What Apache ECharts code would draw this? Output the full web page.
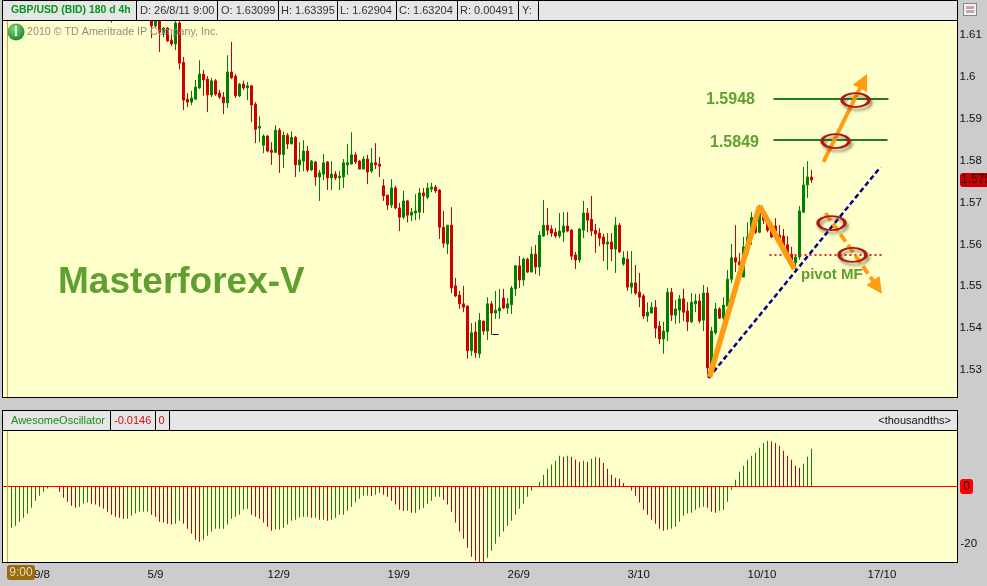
<!DOCTYPE html>
<html>
<head>
<meta charset="utf-8">
<title>GBP/USD Masterforex-V</title>
<style>
html,body{margin:0;padding:0;background:#ccc;}
#main{width:987px;height:586px;}
</style>
<script src="https://cdn.jsdelivr.net/npm/echarts@6/dist/echarts.min.js"></script>
</head>
<body>
<div id="main"></div>
<script>
// x axis ticks, week starts
var tickIndex = [5, 35, 65, 95, 125, 155, 185, 215];
var tickLabels = ['29/8', '5/9', '12/9', '19/9', '26/9', '3/10', '10/10', '17/10'];
var barCount = 238;
var firstCandle = 36;
var priceTicks = [1.53, 1.54, 1.55, 1.56, 1.57, 1.58, 1.59, 1.6, 1.61];

// 4h candles, the ones before firstCandle are above the visible range
var openPrices = [
    1.6140,1.6122,1.6150,1.6107,1.6117,1.6088,1.6079,1.6129,1.6035,1.5947,
    1.5940,1.5947,1.5974,1.6007,1.5995,1.5957,1.5991,1.5962,1.5952,1.5938,
    1.6012,1.6002,1.5955,1.5983,1.5974,1.5979,1.5935,1.5878,1.5837,1.5859,
    1.5825,1.5820,1.5873,1.5815,1.5861,1.5840,1.5856,1.5790,1.5799,1.5823,
    1.5778,1.5797,1.5761,1.5768,1.5797,1.5759,1.5768,1.5759,1.5761,1.5790,
    1.5792,1.5814,1.5799,1.5780,1.5804,1.5775,1.5795,1.5792,1.5740,1.5718,
    1.5694,1.5735,1.5687,1.5665,1.5704,1.5670,1.5675,1.5677,1.5723,1.5713,
    1.5732,1.5737,1.5730,1.5641,1.5601,1.5646,1.5501,1.5479,1.5458,1.5453,
    1.5346,1.5391,1.5339,1.5417,1.5393,1.5458,1.5436,1.5441,1.5472,1.5448,
    1.5456,1.5494,1.5549,1.5515,1.5565,1.5534,1.5577,1.5546,1.5620,1.5646,
    1.5637,1.5629,1.5620,1.5629,1.5644,1.5634,1.5575,1.5563,1.5634,1.5675,
    1.5660,1.5634,1.5627,1.5618,1.5601,1.5606,1.5589,1.5646,1.5553,1.5565,
    1.5498,1.5508,1.5486,1.5477,1.5429,1.5436,1.5450,1.5405,1.5374,1.5391,
    1.5486,1.5431,1.5443,1.5470,1.5441,1.5415,1.5458,1.5465,1.5419,1.5484,
    1.5305,1.5389,1.5446,1.5424,1.5453,1.5517,1.5568,1.5558,1.5522,1.5580,
    1.5615,1.5665,1.5629,1.5675,1.5658,1.5634,1.5644,1.5622,1.5620,1.5599,
    1.5577,1.5556,1.5570,1.5677,1.5742,1.5761
];
var closePrices = [
    1.6122,1.6150,1.6107,1.6117,1.6086,1.6079,1.6129,1.6033,1.5945,1.5940,
    1.5950,1.5976,1.6007,1.5993,1.5957,1.5991,1.5959,1.5952,1.5938,1.6012,
    1.5998,1.5955,1.5983,1.5974,1.5979,1.5933,1.5875,1.5882,1.5859,1.5823,
    1.5820,1.5873,1.5815,1.5861,1.5840,1.5856,1.5790,1.5802,1.5823,1.5778,
    1.5799,1.5761,1.5771,1.5795,1.5759,1.5768,1.5759,1.5763,1.5795,1.5795,
    1.5814,1.5797,1.5780,1.5804,1.5773,1.5795,1.5790,1.5787,1.5716,1.5694,
    1.5735,1.5687,1.5665,1.5704,1.5670,1.5677,1.5680,1.5723,1.5716,1.5735,
    1.5737,1.5728,1.5641,1.5603,1.5646,1.5496,1.5477,1.5458,1.5450,1.5346,
    1.5389,1.5341,1.5419,1.5393,1.5458,1.5436,1.5443,1.5448,1.5448,1.5458,
    1.5496,1.5549,1.5515,1.5565,1.5534,1.5577,1.5546,1.5622,1.5646,1.5634,
    1.5627,1.5620,1.5632,1.5644,1.5632,1.5572,1.5563,1.5637,1.5675,1.5658,
    1.5632,1.5625,1.5615,1.5601,1.5606,1.5589,1.5646,1.5582,1.5568,1.5498,
    1.5508,1.5484,1.5474,1.5429,1.5438,1.5450,1.5400,1.5374,1.5393,1.5486,
    1.5431,1.5446,1.5470,1.5438,1.5415,1.5462,1.5465,1.5417,1.5484,1.5305,
    1.5393,1.5446,1.5424,1.5455,1.5517,1.5568,1.5558,1.5551,1.5594,1.5618,
    1.5665,1.5629,1.5682,1.5658,1.5634,1.5618,1.5618,1.5615,1.5596,1.5575,
    1.5556,1.5570,1.5680,1.5742,1.5761,1.5754
];
var lowPrices = [
    1.6093,1.6119,1.6060,1.6095,1.6084,1.6074,1.6064,1.6018,1.5921,1.5928,
    1.5933,1.5947,1.5971,1.5955,1.5916,1.5952,1.5955,1.5947,1.5911,1.5926,
    1.5995,1.5950,1.5952,1.5969,1.5945,1.5892,1.5842,1.5844,1.5818,1.5820,
    1.5790,1.5818,1.5771,1.5783,1.5828,1.5840,1.5761,1.5773,1.5775,1.5773,
    1.5775,1.5740,1.5704,1.5754,1.5730,1.5730,1.5754,1.5730,1.5735,1.5766,
    1.5792,1.5792,1.5780,1.5780,1.5744,1.5771,1.5780,1.5761,1.5704,1.5682,
    1.5687,1.5684,1.5632,1.5660,1.5653,1.5656,1.5658,1.5660,1.5675,1.5708,
    1.5725,1.5723,1.5613,1.5592,1.5577,1.5484,1.5474,1.5446,1.5438,1.5327,
    1.5334,1.5329,1.5329,1.5384,1.5372,1.5384,1.5422,1.5422,1.5446,1.5434,
    1.5434,1.5477,1.5496,1.5501,1.5532,1.5534,1.5529,1.5525,1.5618,1.5622,
    1.5618,1.5615,1.5615,1.5606,1.5629,1.5563,1.5541,1.5556,1.5615,1.5629,
    1.5620,1.5580,1.5596,1.5560,1.5539,1.5560,1.5532,1.5580,1.5549,1.5489,
    1.5482,1.5479,1.5450,1.5422,1.5415,1.5436,1.5376,1.5362,1.5339,1.5369,
    1.5417,1.5410,1.5412,1.5417,1.5393,1.5412,1.5438,1.5412,1.5393,1.5283,
    1.5300,1.5384,1.5422,1.5417,1.5453,1.5508,1.5534,1.5515,1.5522,1.5572,
    1.5599,1.5625,1.5627,1.5649,1.5629,1.5615,1.5611,1.5611,1.5592,1.5568,
    1.5551,1.5539,1.5563,1.5675,1.5711,1.5747
];
var highPrices = [
    1.6170,1.6180,1.6165,1.6119,1.6119,1.6105,1.6140,1.6140,1.6048,1.5962,
    1.5967,1.5993,1.6040,1.6017,1.6002,1.5998,1.5995,1.5969,1.5964,1.6052,
    1.6084,1.6007,1.5986,1.5991,1.5988,1.5981,1.5940,1.5906,1.5863,1.5861,
    1.5844,1.5885,1.5878,1.5870,1.5866,1.5870,1.5859,1.5844,1.5849,1.5835,
    1.5802,1.5799,1.5778,1.5816,1.5799,1.5799,1.5775,1.5775,1.5804,1.5840,
    1.5868,1.5820,1.5802,1.5811,1.5814,1.5830,1.5842,1.5809,1.5756,1.5718,
    1.5756,1.5740,1.5699,1.5728,1.5706,1.5687,1.5720,1.5735,1.5735,1.5747,
    1.5747,1.5742,1.5732,1.5680,1.5646,1.5689,1.5520,1.5489,1.5501,1.5453,
    1.5412,1.5415,1.5436,1.5417,1.5474,1.5465,1.5489,1.5494,1.5494,1.5472,
    1.5501,1.5551,1.5572,1.5568,1.5568,1.5594,1.5599,1.5632,1.5706,1.5687,
    1.5646,1.5639,1.5675,1.5677,1.5677,1.5637,1.5582,1.5639,1.5704,1.5687,
    1.5716,1.5649,1.5639,1.5625,1.5627,1.5627,1.5665,1.5651,1.5584,1.5584,
    1.5584,1.5551,1.5532,1.5482,1.5462,1.5462,1.5467,1.5417,1.5415,1.5496,
    1.5496,1.5467,1.5479,1.5494,1.5462,1.5484,1.5482,1.5482,1.5503,1.5498,
    1.5403,1.5460,1.5450,1.5474,1.5539,1.5601,1.5646,1.5580,1.5618,1.5653,
    1.5677,1.5675,1.5694,1.5687,1.5670,1.5653,1.5663,1.5646,1.5637,1.5620,
    1.5594,1.5577,1.5692,1.5785,1.5799,1.5778
];
// one earlier candle whose lower wick just shows under the top edge
var stubIndex = 26;
var stubCandle = [1.6150, 1.6140, 1.6130, 1.6160];

// awesome oscillator, in thousandths
var aoValues = [
    -14.7,-14.4,-13.7,-12.3,-10.9,-9.5,-7.5,-5.1,-3.3,-2.0,
    -0.8,-0.1,0,-2.0,-4.0,-5.4,-6.8,-7.5,-7.1,-6.1,
    -5.7,-6.1,-6.4,-7.1,-7.8,-8.9,-9.9,-10.6,-10.9,-11.3,
    -11.3,-10.2,-9.5,-8.9,-8.9,-8.8,-9.9,-10.6,-12.3,-12.6,
    -13.0,-13.3,-13.0,-12.0,-13.0,-14.7,-16.4,-18.5,-19.2,-18.5,
    -17.1,-15.7,-14.7,-14.7,-14.7,-13.3,-11.3,-10.6,-9.9,-8.2,
    -7.8,-9.9,-10.6,-11.3,-12.6,-14.0,-15.4,-15.0,-15.0,-14.4,
    -13.3,-12.0,-11.6,-10.9,-10.6,-10.6,-10.9,-10.9,-11.6,-11.6,
    -12.0,-11.6,-10.9,-9.9,-9.9,-8.5,-7.1,-5.7,-4.4,-3.3,
    -3.3,-3.4,-3.0,-2.3,-3.0,-3.7,-5.1,-6.4,-8.2,-8.5,
    -8.5,-9.2,-9.2,-8.2,-7.5,-6.1,-5.1,-3.7,-3.7,-4.7,
    -6.4,-8.9,-12.6,-15.7,-18.2,-21.3,-24.4,-25.7,-26.2,-26.5,
    -24.7,-22.3,-19.9,-17.5,-15.7,-13.7,-12.0,-9.9,-7.8,-6.1,
    -3.7,-1.6,-0.1,1.5,3.9,6.0,7.4,8.7,10.5,10.1,
    10.5,10.1,9.1,8.4,8.7,8.4,9.4,10.1,9.8,8.0,
    6.0,3.9,2.9,2.5,1.1,0,-1.5,-3.3,-5.7,-8.2,
    -9.9,-11.6,-13.0,-14.7,-15.4,-15.1,-14.7,-14.0,-12.3,-10.2,
    -9.5,-9.2,-8.2,-7.5,-7.1,-7.5,-8.9,-9.2,-8.5,-8.2,
    -5.4,-1.3,2.2,4.9,7.0,9.1,10.5,11.5,13.2,14.9,
    15.6,15.5,14.9,13.9,12.2,10.5,9.1,7.0,6.3,7.7,
    10.1,12.9
];

// hand drawn analysis on the chart, [bar, price]
var targetUp = [[191.5, 1.5948], [220.25, 1.5948]];
var targetLow = [[191.5, 1.5849], [220, 1.5849]];
var pivotLine = [[190.5, 1.5575], [219.25, 1.5575]];
var trendLine = [[175.25, 1.5281], [218.25, 1.5785]];
var arrowUp = [[204, 1.5797], [214, 1.5990]];
var arrowDown = [[204.5, 1.5675], [217.5, 1.5498]];
var waveUp = [[175.5, 1.5283], [188, 1.5692]];
var waveDown = [[188, 1.5692], [196.75, 1.5541]];
var cursorDash = [[121.25, 1.5386], [122.75, 1.5386]];
var ellipses = [[212, 1.5945], [207, 1.5847], [206, 1.5651], [211.25, 1.5575]];

var categories = [];
for (var i = 0; i < barCount; i++) {
    var t = tickIndex.indexOf(i);
    categories.push(t >= 0 ? tickLabels[t] : '');
}

var candleData = [];
for (var i = 0; i < firstCandle; i++) {
    candleData.push(i == stubIndex ? stubCandle : '-');
}
for (var i = 0; i < openPrices.length; i++) {
    candleData.push([openPrices[i], closePrices[i], lowPrices[i], highPrices[i]]);
}

// green while rising, red while falling
var aoData = aoValues.map(function (v, i) {
    var up = i == 0 ? false : v >= aoValues[i - 1];
    return {value: v, itemStyle: {color: up ? '#1f7d00' : '#c80000'}};
});

function drawn(name, coords, color, width, type, arrow) {
    return {
        type: 'lines',
        name: name,
        coordinateSystem: 'cartesian2d',
        xAxisIndex: 2,
        yAxisIndex: 0,
        polyline: false,
        silent: true,
        z: 10,
        symbol: arrow ? ['none', 'triangle'] : 'none',
        symbolSize: arrow ? 16 : 0,
        lineStyle: {color: color, width: width, type: type, opacity: 1, curveness: 0},
        data: [{coords: coords}]
    };
}

function rect(x, y, w, h, fill, z) {
    return {type: 'rect', shape: {x: x, y: y, width: w, height: h}, style: {fill: fill}, z: z || 0, silent: true};
}
function label(x, y, text, font, fill, z, align) {
    return {type: 'text', x: x, y: y, z: z || 20, silent: true,
        style: {text: text, font: font, fill: fill, textAlign: align || 'left', textVerticalAlign: 'middle'}};
}

var sans = '"Liberation Sans", Arial, sans-serif';
var noteGreen = '#5fa030';
var graphics = [
    // header of price panel, on top so candles above the range stay hidden
    rect(2, 0, 956, 21, '#000', 16),
    rect(3, 1, 954, 19, '#e6e6e6', 17),
    rect(136, 1, 1, 19, '#000', 18),
    rect(217, 1, 1, 19, '#000', 18),
    rect(278, 1, 1, 19, '#000', 18),
    rect(337, 1, 1, 19, '#000', 18),
    rect(396, 1, 1, 19, '#000', 18),
    rect(457, 1, 1, 19, '#000', 18),
    rect(518, 1, 1, 19, '#000', 18),
    rect(538, 1, 1, 19, '#000', 18),
    label(11, 10.5, 'GBP/USD (BID) 180 d 4h', 'bold 10.4px ' + sans, '#009a1a'),
    label(140, 10.5, 'D: 26/8/11 9:00', '11px ' + sans, '#333'),
    label(221, 10.5, 'O: 1.63099', '11px ' + sans, '#333'),
    label(281, 10.5, 'H: 1.63395', '11px ' + sans, '#333'),
    label(340, 10.5, 'L: 1.62904', '11px ' + sans, '#333'),
    label(399, 10.5, 'C: 1.63204', '11px ' + sans, '#333'),
    label(460, 10.5, 'R: 0.00491', '11px ' + sans, '#333'),
    label(522, 10.5, 'Y:', '11px ' + sans, '#333'),
    // window icon, top right
    rect(963, 3, 14, 13, '#888'),
    rect(964, 4, 12, 11, '#f2f2f2'),
    rect(966, 6, 8, 3, '#d9a0a0'),
    rect(966, 10, 8, 3, '#b0b0b0'),
    // frames
    rect(2, 21, 1, 377, '#000'),
    rect(3, 21, 3, 376, '#ffffcc'),
    rect(957, 21, 1, 377, '#000'),
    rect(2, 397, 956, 1, '#000'),
    rect(2, 410, 956, 21, '#000'),
    rect(3, 411, 954, 19, '#e6e6e6'),
    rect(110, 411, 1, 19, '#000'),
    rect(155, 411, 1, 19, '#000'),
    rect(169, 411, 1, 19, '#000'),
    rect(2, 431, 1, 132, '#000'),
    rect(3, 431, 3, 131, '#ffffcc'),
    rect(3, 486, 3, 1, '#ff0000', 1),
    rect(957, 431, 1, 132, '#000'),
    rect(2, 562, 956, 1, '#000'),
    label(11, 420.5, 'AwesomeOscillator', '11px ' + sans, '#1a8a1a'),
    label(114, 420.5, '-0.0146', '11px ' + sans, '#d01010'),
    label(158.5, 420.5, '0', '11px ' + sans, '#d01010'),
    label(951, 420.5, '<thousandths>', '11px ' + sans, '#111', 20, 'right'),
    // crosshair on the first bar
    rect(7, 21, 1, 376, '#c4ac5c', 15),
    rect(7, 431, 1, 131, '#c4ac5c', 15),
    // info badge and copyright
    {type: 'circle', shape: {cx: 16, cy: 32, r: 8.5}, z: 20, silent: true,
        style: {fill: new echarts.graphic.RadialGradient(0.4, 0.3, 0.8, [
            {offset: 0, color: '#7fd87f'}, {offset: 1, color: '#0a7f1a'}
        ])}},
    label(16, 32.5, 'i', 'bold 14px "Liberation Serif", serif', '#fff', 21, 'center'),
    label(27, 32.5, '2010 © TD Ameritrade IP Company, Inc.', '10.7px ' + sans, '#8f8f80', 20),
    // notes
    {type: 'text', x: 58, y: 283, z: 20, silent: true,
        style: {text: 'Masterforex-V', font: 'bold 37px ' + sans, fill: noteGreen, textVerticalAlign: 'middle',
            shadowColor: 'rgba(90,90,40,0.35)', shadowBlur: 2, shadowOffsetX: 1, shadowOffsetY: 1}},
    label(706, 100, '1.5948', 'bold 16px ' + sans, noteGreen),
    label(710, 143, '1.5849', 'bold 16px ' + sans, noteGreen),
    label(801, 275, 'pivot MF', 'bold 15px ' + sans, noteGreen),
    // last price tag
    {type: 'rect', shape: {x: 960, y: 173, width: 30, height: 14, r: 3}, style: {fill: '#c80000'}, z: 20, silent: true},
    label(961, 180, '1.575', '12px ' + sans, '#300', 21),
    // oscillator zero tag
    {type: 'rect', shape: {x: 960, y: 479, width: 13, height: 15, r: 3}, style: {fill: '#ff0000'}, z: 20, silent: true},
    label(966.5, 486.5, '0', '12px ' + sans, '#300', 21, 'center'),
    // time tag
    {type: 'rect', shape: {x: 7, y: 565, width: 28, height: 15, r: 3}, style: {fill: '#9a6a10'}, z: 30, silent: true},
    label(21, 573, '9:00', '12px ' + sans, '#eedfb8', 31, 'center')
];

var dom = document.getElementById('main');
var myChart = echarts.init(dom, null, {renderer: 'canvas'});
var option = {
    animation: false,
    backgroundColor: '#cccccc',
    textStyle: {fontFamily: sans},
    grid: [
        {left: 5.5, top: 21, width: 952, height: 376, show: true, backgroundColor: '#ffffcc', borderWidth: 0},
        {left: 5.5, top: 431, width: 952, height: 131, show: true, backgroundColor: '#ffffcc', borderWidth: 0}
    ],
    xAxis: [
        {type: 'category', gridIndex: 0, data: categories, boundaryGap: true,
            axisLine: {show: false}, axisTick: {show: false}, axisLabel: {show: false}, splitLine: {show: false}},
        {type: 'category', gridIndex: 1, data: categories, boundaryGap: true,
            axisLine: {show: false}, axisTick: {show: false}, splitLine: {show: false},
            axisLabel: {
                interval: function (index) { return tickIndex.indexOf(index) >= 0; },
                align: 'left', margin: 7, fontSize: 11.5, color: '#111', hideOverlap: false
            }},
        // bar number scale for the hand drawn notes
        {type: 'value', gridIndex: 0, min: -0.5, max: barCount - 0.5, show: false}
    ],
    yAxis: [
        {type: 'value', gridIndex: 0, position: 'right', min: 1.52355, max: 1.61338, scale: true,
            axisLine: {show: false}, axisTick: {show: false}, splitLine: {show: false},
            axisLabel: {customValues: priceTicks, margin: 2, fontSize: 11.5, color: '#111',
                formatter: function (v) { return String(v); }}},
        {type: 'value', gridIndex: 1, position: 'right', min: -26.2, max: 19,
            axisLine: {show: false}, axisTick: {show: false}, splitLine: {show: false},
            axisLabel: {customValues: [-20], margin: 3, fontSize: 11.5, color: '#111'}}
    ],
    graphic: graphics,
    series: [
        {
            type: 'candlestick',
            name: 'GBP/USD',
            xAxisIndex: 0,
            yAxisIndex: 0,
            barWidth: 2,
            clip: true,
            silent: true,
            itemStyle: {color: '#008000', color0: '#cc0000', borderColor: '#008000', borderColor0: '#cc0000', borderWidth: 1},
            data: candleData
        },
        {
            type: 'bar',
            name: 'AwesomeOscillator',
            xAxisIndex: 1,
            yAxisIndex: 1,
            barWidth: 1,
            silent: true,
            data: aoData,
            markLine: {
                silent: true,
                symbol: 'none',
                label: {show: false},
                lineStyle: {color: '#ff0000', width: 1, type: 'solid'},
                data: [{yAxis: 0}]
            }
        },
        drawn('target 1.5948', targetUp, '#1f7d1f', 2, 'solid'),
        drawn('target 1.5849', targetLow, '#1f7d1f', 2, 'solid'),
        drawn('pivot', pivotLine, '#d8283c', 2, [2, 3]),
        drawn('trend', trendLine, '#000088', 2.5, [5, 3]),
        drawn('arrow up', arrowUp, '#ff9c12', 4, 'solid', true),
        drawn('arrow down', arrowDown, '#ff9c12', 4, [9, 4], true),
        drawn('wave up', waveUp, '#ff9c12', 5.5, 'solid'),
        drawn('wave down', waveDown, '#ff9c12', 5.5, 'solid'),
        drawn('cursor', cursorDash, '#000', 1, 'solid'),
        {
            type: 'scatter',
            name: 'marks',
            xAxisIndex: 2,
            yAxisIndex: 0,
            silent: true,
            z: 12,
            symbol: 'circle',
            symbolSize: [27, 14],
            itemStyle: {color: 'rgba(0,0,0,0)', borderColor: '#b41414', borderWidth: 2.5, opacity: 1,
                shadowColor: 'rgba(70,70,30,0.6)', shadowBlur: 3, shadowOffsetX: 2, shadowOffsetY: 3},
            data: ellipses
        }
    ]
};
myChart.setOption(option, true);
</script>
</body>
</html>
